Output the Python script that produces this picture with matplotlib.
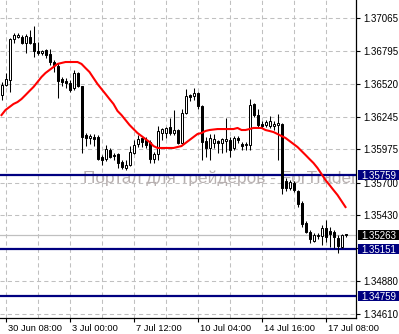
import matplotlib
matplotlib.use('Agg')
import matplotlib.pyplot as plt
import numpy as np
from matplotlib.patches import Rectangle
from matplotlib.transforms import blended_transform_factory, ScaledTranslation

# шрифт как в терминале
plt.rcParams['font.family'] = ['Liberation Sans', 'DejaVu Sans']

# H4 свечи
opens = [1.36426, 1.36509, 1.36551, 1.36891, 1.36907, 1.36907, 1.36858, 1.36907, 1.36858, 1.36791,
         1.36775, 1.36800, 1.36766, 1.36700, 1.36667, 1.36559, 1.36542, 1.36526, 1.36484, 1.36609,
         1.36501, 1.36095, 1.36070, 1.36078, 1.36078, 1.35912, 1.35895, 1.35970, 1.35929, 1.35937,
         1.35871, 1.35821, 1.35846, 1.35945, 1.36020, 1.36070, 1.36053, 1.36037, 1.35895, 1.35937,
         1.36111, 1.36111, 1.36161, 1.36111, 1.36136, 1.36028, 1.36277, 1.36426, 1.36418, 1.36443,
         1.36335, 1.36045, 1.35987, 1.36028, 1.36045, 1.36028, 1.36045, 1.36053, 1.35987, 1.36070,
         1.36020, 1.36012, 1.36012, 1.36352, 1.36260, 1.36186, 1.36178, 1.36169, 1.36169, 1.36178,
         1.36186, 1.35713, 1.35655, 1.35696, 1.35630, 1.35530, 1.35365, 1.35290, 1.35215, 1.35257,
         1.35257, 1.35323, 1.35298, 1.35290, 1.35240, 1.35166, 1.35274]
highs = [1.36534, 1.36609, 1.36899, 1.36941, 1.36941, 1.36924, 1.36932, 1.36965, 1.36999, 1.36866,
         1.36800, 1.36808, 1.36808, 1.36717, 1.36692, 1.36576, 1.36567, 1.36551, 1.36634, 1.36617,
         1.36501, 1.36111, 1.36103, 1.36103, 1.36095, 1.35929, 1.36012, 1.35987, 1.35945, 1.35945,
         1.35887, 1.35887, 1.36003, 1.36053, 1.36095, 1.36078, 1.36078, 1.36053, 1.35953, 1.36169,
         1.36153, 1.36161, 1.36236, 1.36302, 1.36144, 1.36310, 1.36476, 1.36435, 1.36484, 1.36451,
         1.36343, 1.36078, 1.36103, 1.36103, 1.36053, 1.36070, 1.36236, 1.36078, 1.36086, 1.36086,
         1.36037, 1.36037, 1.36393, 1.36360, 1.36310, 1.36211, 1.36219, 1.36252, 1.36211, 1.36269,
         1.36194, 1.35738, 1.35721, 1.35713, 1.35638, 1.35547, 1.35381, 1.35306, 1.35282, 1.35282,
         1.35348, 1.35390, 1.35331, 1.35306, 1.35265, 1.35274, 1.35274]
lows = [1.36385, 1.36501, 1.36451, 1.36858, 1.36899, 1.36849, 1.36775, 1.36849, 1.36742, 1.36758,
        1.36758, 1.36733, 1.36675, 1.36617, 1.36401, 1.36501, 1.36484, 1.36451, 1.36468, 1.36493,
        1.35945, 1.36003, 1.36020, 1.36003, 1.35887, 1.35846, 1.35879, 1.35904, 1.35887, 1.35821,
        1.35813, 1.35804, 1.35837, 1.35937, 1.35995, 1.35995, 1.35987, 1.35862, 1.35862, 1.35887,
        1.36053, 1.36070, 1.36095, 1.36095, 1.36020, 1.36020, 1.36269, 1.36377, 1.36385, 1.36310,
        1.35887, 1.35912, 1.35887, 1.35987, 1.35945, 1.35945, 1.35953, 1.35912, 1.35970, 1.36028,
        1.35970, 1.35970, 1.35970, 1.36244, 1.36153, 1.36153, 1.36161, 1.36153, 1.36136, 1.35887,
        1.35605, 1.35630, 1.35638, 1.35622, 1.35497, 1.35331, 1.35282, 1.35199, 1.35207, 1.35232,
        1.35182, 1.35207, 1.35166, 1.35157, 1.35116, 1.35157, 1.35249]
closes = [1.36509, 1.36559, 1.36891, 1.36924, 1.36924, 1.36858, 1.36916, 1.36858, 1.36791, 1.36775,
          1.36791, 1.36758, 1.36700, 1.36675, 1.36542, 1.36534, 1.36526, 1.36468, 1.36609, 1.36501,
          1.36078, 1.36070, 1.36086, 1.36061, 1.35895, 1.35887, 1.35978, 1.35912, 1.35920, 1.35862,
          1.35829, 1.35846, 1.35953, 1.36012, 1.36061, 1.36037, 1.36012, 1.35895, 1.35937, 1.36128,
          1.36144, 1.36153, 1.36111, 1.36136, 1.36028, 1.36277, 1.36418, 1.36410, 1.36443, 1.36335,
          1.36037, 1.35987, 1.36070, 1.36061, 1.36028, 1.36061, 1.36061, 1.35970, 1.36070, 1.36053,
          1.36003, 1.36020, 1.36343, 1.36260, 1.36178, 1.36169, 1.36202, 1.36211, 1.36186, 1.36194,
          1.35655, 1.35655, 1.35705, 1.35638, 1.35522, 1.35357, 1.35290, 1.35232, 1.35265, 1.35265,
          1.35323, 1.35249, 1.35274, 1.35249, 1.35174, 1.35265, 1.35263]

# скользящая средняя (красная)
ma_values = [1.36260, 1.36302, 1.36327, 1.36352, 1.36368, 1.36393, 1.36426, 1.36460, 1.36493, 1.36534,
             1.36576, 1.36609, 1.36634, 1.36659, 1.36684, 1.36692, 1.36700, 1.36700, 1.36700, 1.36700,
             1.36684, 1.36650, 1.36617, 1.36567, 1.36518, 1.36476, 1.36435, 1.36393, 1.36352, 1.36294,
             1.36260, 1.36219, 1.36178, 1.36144, 1.36111, 1.36086, 1.36061, 1.36037, 1.36003, 1.35987,
             1.35987, 1.35987, 1.35987, 1.35987, 1.35995, 1.36003, 1.36028, 1.36053, 1.36078, 1.36103,
             1.36111, 1.36128, 1.36136, 1.36140, 1.36144, 1.36144, 1.36144, 1.36144, 1.36144, 1.36153,
             1.36136, 1.36136, 1.36144, 1.36153, 1.36153, 1.36153, 1.36136, 1.36128, 1.36119, 1.36103,
             1.36086, 1.36070, 1.36045, 1.36020, 1.35995, 1.35962, 1.35929, 1.35895, 1.35862, 1.35821,
             1.35771, 1.35721, 1.35680, 1.35638, 1.35597, 1.35547, 1.35497]

price_ticks = [1.37065, 1.36795, 1.36520, 1.36245, 1.35975, 1.35700, 1.35430, 1.35155, 1.34880, 1.34610]
# подпись 1.35155 закрыта меткой уровня 1.35151
price_labels = ['1.37065', '1.36795', '1.36520', '1.36245', '1.35975', '1.35700', '1.35430', '',
                '1.34880', '1.34610']
time_pos = [1, 17, 33, 49, 65, 81]
time_labels = ['30 Jun 08:00', '3 Jul 00:00', '7 Jul 12:00', '10 Jul 04:00', '14 Jul 16:00', '17 Jul 08:00']
grid_pos = list(range(1, 89, 8))
levels = [1.35759, 1.35151, 1.34759]
last_price = 1.35263
watermark = 'Портал для трейдеров - ForTrader.org'

navy = '#000080'
grid_col = '#c0c0c0'

fig = plt.figure(figsize=(3.99, 3.34), dpi=100)
ax = fig.add_axes([0, 16 / 334, 356 / 399, 318 / 334])

x = np.arange(len(opens))
o = np.array(opens)
h = np.array(highs)
l = np.array(lows)
c = np.array(closes)

# сетка
for p in price_ticks:
    ax.axhline(p, color=grid_col, lw=0.75, ls=(0, (4, 3)), zorder=0.5)
for g in grid_pos:
    ax.axvline(g, color=grid_col, lw=0.75, ls=(0, (4, 3)), zorder=0.5)

trans = blended_transform_factory(ax.transAxes, ax.transData)

# водяной знак
ax.text(83 / 356, 1.35740, watermark, transform=trans,
        fontsize=12.4, color='#b8b0b0', va='center', ha='left', zorder=0.6, clip_on=True)

# уровни и линия цены
ax.axhline(last_price, color='#c0c0c0', lw=0.9, zorder=1)
for lv in levels:
    ax.axhline(lv, color=navy, lw=1.6, zorder=1.2)

# свечи
ax.vlines(x, l, h, color='black', lw=0.75, zorder=2)
body_fc = np.where(c >= o, 'white', 'black')
ax.bar(x, np.abs(c - o), bottom=np.minimum(o, c), width=0.5, color=body_fc,
       edgecolor='black', linewidth=0.72, zorder=3)

# MA
ax.plot(x, ma_values, color='#ff0000', lw=1.5, zorder=4)

ax.set_xlim(-0.375, 88.625)
ax.set_ylim(1.345768, 1.372143)

# оси
for s in ['left', 'top']:
    ax.spines[s].set_visible(False)
for s in ['right', 'bottom']:
    ax.spines[s].set_linewidth(0.9)
ax.yaxis.tick_right()
ax.set_yticks(price_ticks)
ax.set_yticklabels(price_labels)
ax.set_xticks(time_pos)
ax.set_xticklabels(time_labels)
ax.tick_params(axis='y', direction='out', length=3, width=0.8, pad=2.5, labelsize=7)
ax.tick_params(axis='x', direction='out', length=3, width=0.8, pad=1.5, labelsize=6.7)
off = ScaledTranslation(2 / 100, 0, fig.dpi_scale_trans)
for lab in ax.get_xticklabels():
    lab.set_horizontalalignment('left')
    lab.set_transform(lab.get_transform() + off)

# метки цен справа
box_h = 10 * (1.372143 - 1.345768) / 318
for lv, fc in [(levels[0], navy), (levels[1], navy), (levels[2], navy), (last_price, 'black')]:
    ax.add_patch(Rectangle((358 / 356, lv - box_h / 2), 42 / 356, box_h, transform=trans,
                           facecolor=fc, edgecolor='none', clip_on=False, zorder=5))
    ax.text(1.0 + 5.5 / 356, lv, '%.5f' % lv, transform=trans, color='white', fontsize=7,
            va='center_baseline', ha='left', clip_on=False, zorder=6)

fig.savefig('out.png', dpi=100, facecolor='white')
